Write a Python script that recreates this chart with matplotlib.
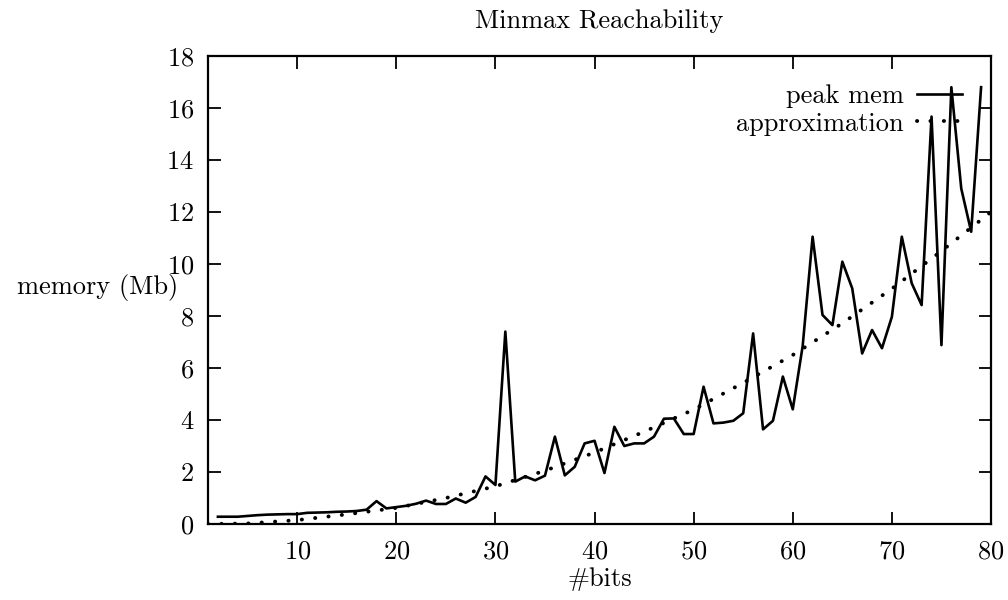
import matplotlib
matplotlib.use("Agg")
import matplotlib.pyplot as plt

plt.rcParams['font.family'] = ['cmr10', 'DejaVu Serif']
plt.rcParams['axes.formatter.use_mathtext'] = True
plt.rcParams['font.size'] = 19

# peak memory per number of bits
bits = list(range(2, 80))
peak_mem = [0.28, 0.28, 0.28, 0.31, 0.34, 0.36, 0.37, 0.38, 0.38, 0.43,
            0.44, 0.45, 0.47, 0.48, 0.50, 0.55, 0.88, 0.60, 0.65, 0.70,
            0.78, 0.90, 0.77, 0.77, 0.98, 0.82, 1.04, 1.83, 1.50, 7.40,
            1.63, 1.83, 1.68, 1.86, 3.36, 1.87, 2.20, 3.10, 3.20, 1.96,
            3.74, 3.00, 3.10, 3.10, 3.36, 4.05, 4.06, 3.46, 3.46, 5.28,
            3.87, 3.90, 3.97, 4.26, 7.33, 3.64, 3.97, 5.67, 4.41, 6.85,
            11.05, 8.04, 7.65, 10.09, 9.06, 6.56, 7.46, 6.76, 7.97, 11.05,
            9.26, 8.42, 15.67, 6.88, 16.8, 12.9, 11.24, 16.8]

# approximation curve, sampled points
approx_x = [1, 5, 10, 15, 20, 25, 30, 35, 40, 45, 50, 55, 60, 65, 70, 75, 80]
approx_y = [0.0, 0.02, 0.15, 0.37, 0.62, 1.0, 1.45, 2.05, 2.75, 3.55,
            4.4, 5.43, 6.5, 7.72, 9.05, 10.5, 12.0]

fig = plt.figure(figsize=(10.08, 6), dpi=100)
ax = fig.add_axes([208/1008, 76/600, 783/1008, 468/600])

ax.plot(bits, peak_mem, color='black', lw=1.9, label='peak mem')
ax.plot(approx_x, approx_y, color='black', lw=2.8, linestyle=(0, (0.05, 3.4)),
        dash_capstyle='round', label='approximation')

ax.set_xlim(1, 80)
ax.set_ylim(0, 18)
ax.set_xticks(range(10, 81, 10))
ax.set_yticks(range(0, 19, 2))
ax.tick_params(direction='in', length=9, width=1.3, top=True, right=True)
ax.tick_params(axis='x', pad=11)
ax.tick_params(axis='y', pad=10)
for s in ax.spines.values():
    s.set_linewidth(1.6)

ax.set_title('Minmax Reachability', fontsize=19, pad=20)
ax.set_xlabel('#bits', labelpad=3)
fig.text(178/1008, (600 - 287)/600, 'memory (Mb)', ha='right', va='center')

ax.legend(loc='upper right', bbox_to_anchor=(0.963, 0.94), frameon=False,
          markerfirst=False, handlelength=1.7, handletextpad=0.5,
          labelspacing=0.15, borderpad=0, borderaxespad=0)

fig.savefig('out.png', dpi=100)
